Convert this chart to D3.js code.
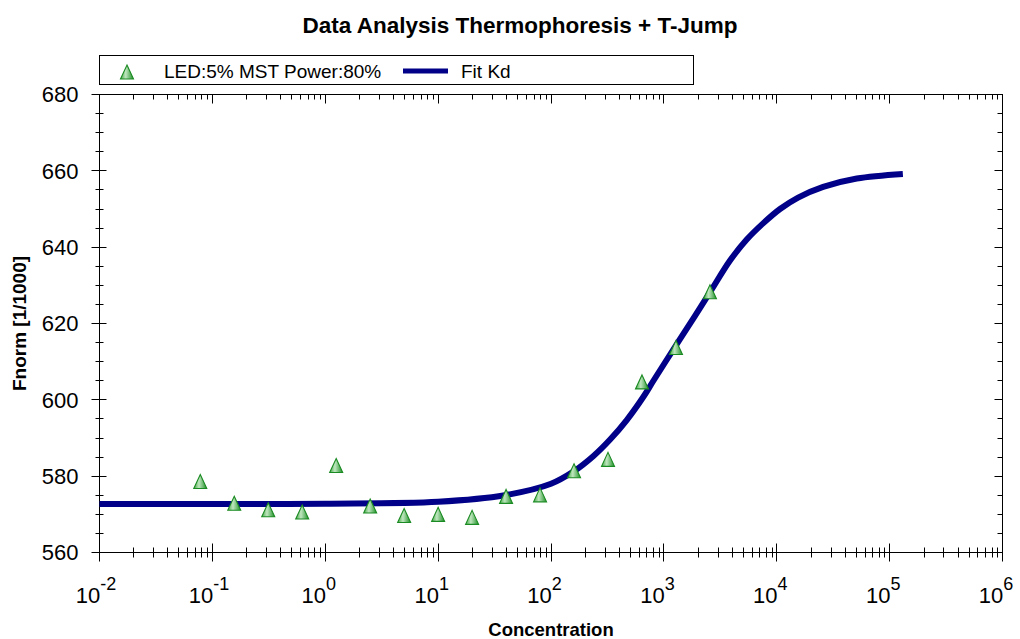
<!DOCTYPE html>
<html>
<head>
<meta charset="utf-8">
<script src="https://cdn.jsdelivr.net/npm/d3@7"></script>
<style>
  html, body { margin: 0; padding: 0; background: #fff; }
  svg { display: block; font-family: "Liberation Sans", Arial, sans-serif; }
</style>
</head>
<body>
<svg id="chart" width="1020" height="639"></svg>
<script>
// ---- data ----
const concentrations = [0.078125, 0.15625, 0.3125, 0.625, 1.25, 2.5, 5, 10, 20, 40, 80, 160, 320, 640, 1280, 2560];
const fnorm = [578.6, 572.9, 571.2, 570.6, 582.8, 572.2, 569.7, 570.0, 569.2, 574.7, 575.1, 581.4, 584.4, 604.7, 613.7, 628.3];
const fitConc = [0.01, 0.1, 1, 10, 39, 100, 158, 238, 334, 469, 659, 808, 1256, 1888, 2540, 3855, 5420, 7610, 10690, 15460, 25770, 51200, 131000];
const fitVal = [572.7, 572.7, 572.8, 573.3, 575.0, 578.0, 581.2, 585.3, 589.6, 594.7, 600.8, 605.0, 613.9, 622.0, 628.0, 636.5, 642.0, 646.3, 650.0, 653.0, 655.8, 658.0, 659.2];
const xDecades = [-2, -1, 0, 1, 2, 3, 4, 5, 6];
const yTicks = [560, 580, 600, 620, 640, 660, 680];
const titleText = "Data Analysis Thermophoresis + T-Jump";
const xTitle = "Concentration";
const yTitle = "Fnorm [1/1000]";
const legendLabels = ["LED:5% MST Power:80%", "Fit Kd"];

// ---- layout ----
const L = 99.5, R = 1002.5, T = 94.5, B = 552.5;
const svg = d3.select("#chart");
const x = d3.scaleLog().domain([1e-2, 1e6]).range([L, R]);
const y = d3.scaleLinear().domain([560, 680]).range([B, T]);

// gradient for triangles
const defs = svg.append("defs");
const g = defs.append("linearGradient").attr("id", "tri").attr("x1", "0").attr("x2", "1").attr("y1", "0").attr("y2", "0");
g.append("stop").attr("offset", "0%").attr("stop-color", "#45a845");
g.append("stop").attr("offset", "40%").attr("stop-color", "#bfe6bf");
g.append("stop").attr("offset", "100%").attr("stop-color", "#1f8f26");
const triPath = "M0,-7 L6.5,7 L-6.5,7 Z";

// frame
svg.append("rect").attr("x", L).attr("y", T).attr("width", R - L).attr("height", B - T)
  .attr("fill", "none").attr("stroke", "#000").attr("stroke-width", 1);

// minor log ticks
const minorX = [];
for (let d = -2; d < 6; d++) for (let k = 2; k <= 9; k++) minorX.push(k * Math.pow(10, d));
const majorX = xDecades.map(d => Math.pow(10, d));
const ax = svg.append("g").attr("stroke", "#000").attr("stroke-width", 1);
ax.selectAll(".bmin").data(minorX).join("line")
  .attr("x1", d => Math.round(x(d)) + 0.5).attr("x2", d => Math.round(x(d)) + 0.5)
  .attr("y1", B - 5).attr("y2", B + 5);
ax.selectAll(".bmaj").data(majorX).join("line")
  .attr("x1", d => Math.round(x(d) - 0.5) + 0.5).attr("x2", d => Math.round(x(d) - 0.5) + 0.5)
  .attr("y1", B - 9).attr("y2", B + 9);
ax.selectAll(".tmin").data(minorX).join("line")
  .attr("x1", d => Math.round(x(d)) + 0.5).attr("x2", d => Math.round(x(d)) + 0.5)
  .attr("y1", T).attr("y2", T + 5);
ax.selectAll(".tmaj").data(majorX).join("line")
  .attr("x1", d => Math.round(x(d) - 0.5) + 0.5).attr("x2", d => Math.round(x(d) - 0.5) + 0.5)
  .attr("y1", T).attr("y2", T + 9);
const minorY = d3.range(560, 681, 5).filter(v => v % 20 !== 0);
ax.selectAll(".lmin").data(minorY).join("line")
  .attr("x1", L - 4).attr("x2", L + 4)
  .attr("y1", d => Math.round(y(d) - 0.5) + 0.5).attr("y2", d => Math.round(y(d) - 0.5) + 0.5);
ax.selectAll(".lmaj").data(yTicks).join("line")
  .attr("x1", L - 8).attr("x2", L + 7)
  .attr("y1", d => Math.round(y(d) - 0.5) + 0.5).attr("y2", d => Math.round(y(d) - 0.5) + 0.5);
ax.selectAll(".rmin").data(minorY).join("line")
  .attr("x1", R - 5).attr("x2", R)
  .attr("y1", d => Math.round(y(d) - 0.5) + 0.5).attr("y2", d => Math.round(y(d) - 0.5) + 0.5);
ax.selectAll(".rmaj").data(yTicks).join("line")
  .attr("x1", R - 8).attr("x2", R)
  .attr("y1", d => Math.round(y(d) - 0.5) + 0.5).attr("y2", d => Math.round(y(d) - 0.5) + 0.5);

// y tick labels
svg.append("g").selectAll("text").data(yTicks).join("text")
  .attr("x", 78.5).attr("y", d => y(d) + 7.8)
  .attr("text-anchor", "end").attr("font-size", 22).attr("fill", "#000")
  .text(d => d);

// x tick labels: 10 with superscript exponent
const xl = svg.append("g").attr("fill", "#000");
xl.selectAll(".base").data(xDecades).join("text")
  .attr("x", d => x(Math.pow(10, d)) + 0.8).attr("y", 603.3)
  .attr("text-anchor", "end").attr("font-size", 22).text("10");
xl.selectAll(".exp").data(xDecades).join("text")
  .attr("x", d => x(Math.pow(10, d)) + 0.8).attr("y", 590)
  .attr("text-anchor", "start").attr("font-size", 18).text(d => d);

// fit curve
const line = d3.line().x((d, i) => x(fitConc[i])).y((d, i) => y(fitVal[i])).curve(d3.curveCatmullRom.alpha(0.5));
svg.append("path").datum(fitVal).attr("d", line)
  .attr("fill", "none").attr("stroke", "#000088").attr("stroke-width", 6);

// data points
svg.append("g").selectAll("path").data(fnorm).join("path")
  .attr("transform", (d, i) => `translate(${x(concentrations[i])},${y(d)})`)
  .attr("d", triPath).attr("fill", "url(#tri)").attr("stroke", "#1a8a22").attr("stroke-width", 1.1);

// title
svg.append("text").attr("x", 520).attr("y", 33).attr("text-anchor", "middle")
  .attr("font-size", 22.5).attr("font-weight", "bold").attr("fill", "#000").text(titleText);

// axis titles
svg.append("text").attr("x", (L + R) / 2).attr("y", 636).attr("text-anchor", "middle")
  .attr("font-size", 18.5).attr("font-weight", "bold").attr("fill", "#000").text(xTitle);
svg.append("text").attr("transform", `translate(26,${(T + B) / 2}) rotate(-90)`)
  .attr("text-anchor", "middle").attr("font-size", 19).attr("font-weight", "bold").attr("fill", "#000").text(yTitle);

// legend
const lg = svg.append("g");
lg.append("rect").attr("x", 99.5).attr("y", 55.5).attr("width", 594).attr("height", 29)
  .attr("fill", "#fff").attr("stroke", "#000").attr("stroke-width", 1);
lg.append("path").attr("transform", "translate(127,72)").attr("d", triPath)
  .attr("fill", "url(#tri)").attr("stroke", "#1a8a22").attr("stroke-width", 1.1);
lg.append("text").attr("x", 164).attr("y", 78).attr("font-size", 19).attr("fill", "#000").text(legendLabels[0]);
lg.append("line").attr("x1", 403).attr("x2", 448).attr("y1", 71).attr("y2", 71)
  .attr("stroke", "#000088").attr("stroke-width", 5);
lg.append("text").attr("x", 461).attr("y", 78).attr("font-size", 19).attr("fill", "#000").text(legendLabels[1]);
</script>
</body>
</html>
